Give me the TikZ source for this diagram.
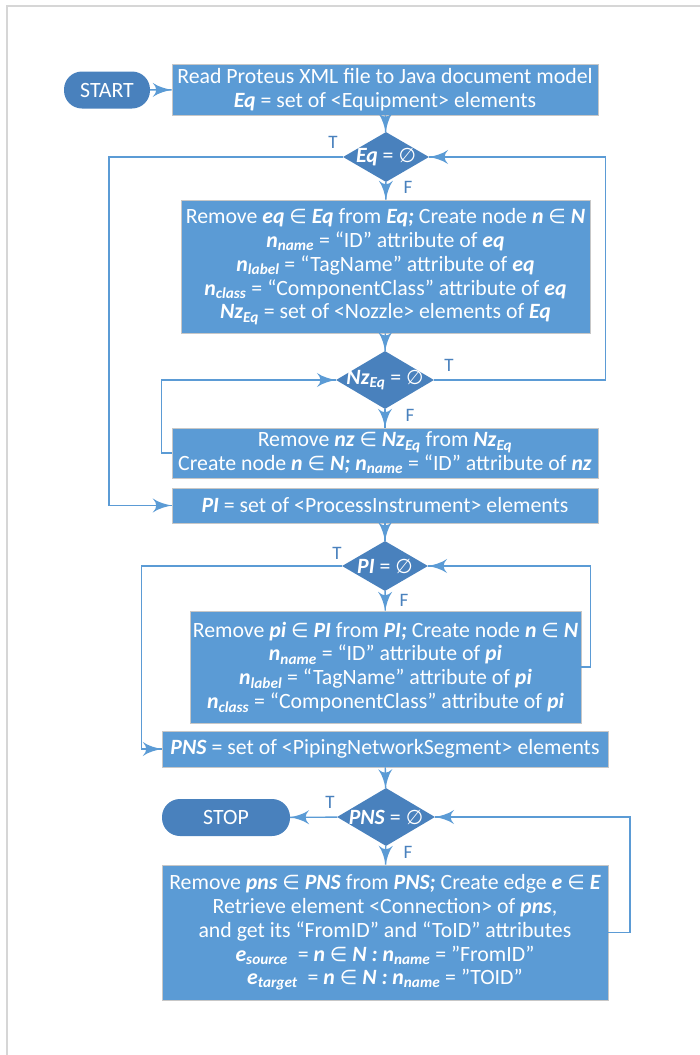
\documentclass[tikz,border=0pt]{standalone}
\usepackage{fontspec}
\setmainfont{Carlito}
\newfontfamily\symfont{DejaVu Sans}[Scale=0.92]
\usepackage{tikz}
\usetikzlibrary{arrows}
\usetikzlibrary{decorations.markings}
\usetikzlibrary{shapes.geometric}
\definecolor{boxblue}{RGB}{91,155,213}
\definecolor{darkblue}{RGB}{73,129,189}
\definecolor{frame}{RGB}{214,214,214}
\newcommand{\bi}[1]{\textbf{\textit{#1}}}
\newcommand{\bisub}[2]{\bi{#1}\textsubscript{\bi{#2}}}
\newcommand{\elem}{{\symfont ∈}}
\newcommand{\empt}{{\symfont ∅}}
\tikzset{->/.style = {decoration={markings,
                                  mark=at position 1 with {\arrow[scale=2.7]{latex'}}},
                      postaction={decorate}}}
\tikzset{proc/.style = {rectangle, fill=boxblue, draw=black!22, line width=0.8,
                        text=white, align=center, inner sep=0,
                        font=\fontsize{21.8}{23.8}\selectfont}}
\tikzset{decision/.style = {diamond, fill=darkblue, inner sep=0, text=white,
                            font=\fontsize{21.8}{23.8}\selectfont}}
\tikzset{term/.style = {rectangle, rounded corners=18, fill=darkblue, text=white,
                        minimum height=37, inner sep=0,
                        font=\fontsize{21.8}{23.8}\selectfont}}
\tikzset{flag/.style = {text=darkblue, inner sep=0, font=\fontsize{19}{19}\selectfont}}
\tikzset{link/.style = {draw=boxblue, line width=1.4}}

\begin{document}
\begin{tikzpicture}[x=1pt, y=-1pt]
    \useasboundingbox (0, 0) rectangle (700, 1055);
    \draw [frame, line width=1.5] (700, 6) -- (7, 6) -- (7, 1055);

    % equipment
    \node [term, minimum width=86] (start) at (107, 90) {START};
    \node [proc, minimum width=426, minimum height=51] (read) at (385, 89.5)
      {Read Proteus XML file to Java document model\\
       \bi{Eq} = set of <Equipment> elements};
    \node [decision, minimum width=86, minimum height=50] (eqtest) at (386, 157)
      {\makebox[0pt]{\bi{Eq} = \empt}};
    \node [proc, minimum width=409, minimum height=133] (eqbody) at (385.5, 266.5)
      {Remove \bi{eq} \elem{} \bi{Eq} from \bi{Eq;} Create node \bi{n} \elem{} \bi{N}\\
       \bisub{n}{name} = “ID” attribute of \bi{eq}\\
       \bisub{n}{label} = “TagName” attribute of \bi{eq}\\
       \bisub{n}{class} = “ComponentClass” attribute of \bi{eq}\\
       \bisub{Nz}{Eq} = set of <Nozzle> elements of \bi{Eq}};
    \node [decision, minimum width=98, minimum height=58] (nztest) at (385, 380)
      {\makebox[0pt]{\bisub{Nz}{Eq} = \empt}};
    \node [proc, minimum width=426, minimum height=50] (nzbody) at (385, 453)
      {Remove \bi{nz} \elem{} \bisub{Nz}{Eq} from \bisub{Nz}{Eq}\\
       Create node \bi{n} \elem{} \bi{N; }\bisub{n}{name} = “ID” attribute of \bi{nz}};

    % instruments
    \node [proc, minimum width=426, minimum height=35] (piset) at (385, 505.5)
      {\bi{PI} = set of <ProcessInstrument> elements};
    \node [decision, minimum width=86, minimum height=50] (pitest) at (385, 566)
      {\makebox[0pt]{\bi{PI} = \empt}};
    \node [proc, minimum width=391, minimum height=112] (pibody) at (385.5, 667)
      {Remove \bi{pi} \elem{} \bi{PI} from \bi{PI;} Create node \bi{n} \elem{} \bi{N}\\
       \bisub{n}{name} = “ID” attribute of \bi{pi}\\
       \bisub{n}{label} = “TagName” attribute of \bi{pi}\\
       \bisub{n}{class} = “ComponentClass” attribute of \bi{pi}};

    % piping
    \node [proc, minimum width=446, minimum height=36] (pnsset) at (385, 749)
      {\bi{PNS} = set of <PipingNetworkSegment> elements};
    \node [decision, minimum width=98, minimum height=58] (pnstest) at (386, 817)
      {\makebox[0pt]{\bi{PNS} = \empt}};
    \node [term, minimum width=128] (stop) at (226, 817.5) {STOP};
    \node [proc, minimum width=446, minimum height=135] (pnsbody) at (385, 932.5)
      {Remove \bi{pns} \elem{} \bi{PNS} from \bi{PNS;} Create edge \bi{e} \elem{} \bi{E}\\
       Retrieve element <Connection> of \bi{pns},\\
       and get its “FromID” and “ToID” attributes\\
       \bisub{e}{source}\ \ = \bi{n} \elem{} \bi{N : }\bisub{n}{name} = ”FromID”\\
       \bisub{e}{target}\ \ = \bi{n} \elem{} \bi{N : }\bisub{n}{name} = ”TOID”};

    % connectors
    \draw [link, ->] (start) -- (read);
    \draw [link, ->] (read) -- (eqtest);
    \draw [link, ->] (eqtest) -- (eqbody);
    \draw [link, ->] (eqtest.west) -- ++(-234, 0) |- (piset.west);
    \draw [link, ->] (eqbody) -- (nztest);
    \draw [link, ->] (nztest) -- (nzbody);
    \draw [link, ->] (nztest.east) -- ++(171.5, 0) |- (eqtest.east);
    \draw [link, ->] (nzbody.west) -- ++(-10, 0) |- (nztest.west);
    \draw [link, ->] (piset) -- (pitest);
    \draw [link, ->] (pitest) -- (pibody);
    \draw [link, ->] (pibody.east) -- ++(9, 0) |- (pitest.east);
    \draw [link, ->] (pitest.west) -- ++(-200.5, 0) |- (pnsset.west);
    \draw [link, ->] (pnsset) -- (pnstest);
    \draw [link, ->] (pnstest) -- (stop);
    \draw [link, ->] (pnstest) -- (pnsbody);
    \draw [link, ->] (pnsbody.east) -- ++(21.5, 0) |- (pnstest.east);

    \node [flag] (eqT) at (333, 142) {T};
    \node [flag] (eqF) at (408, 187) {F};
    \node [flag] (nzT) at (449, 365) {T};
    \node [flag] (nzF) at (410, 415) {F};
    \node [flag] (piT) at (337, 553) {T};
    \node [flag] (piF) at (404, 600) {F};
    \node [flag] (pnsT) at (330, 802) {T};
    \node [flag] (pnsF) at (408, 852) {F};
  \end{tikzpicture}
\end{document}
